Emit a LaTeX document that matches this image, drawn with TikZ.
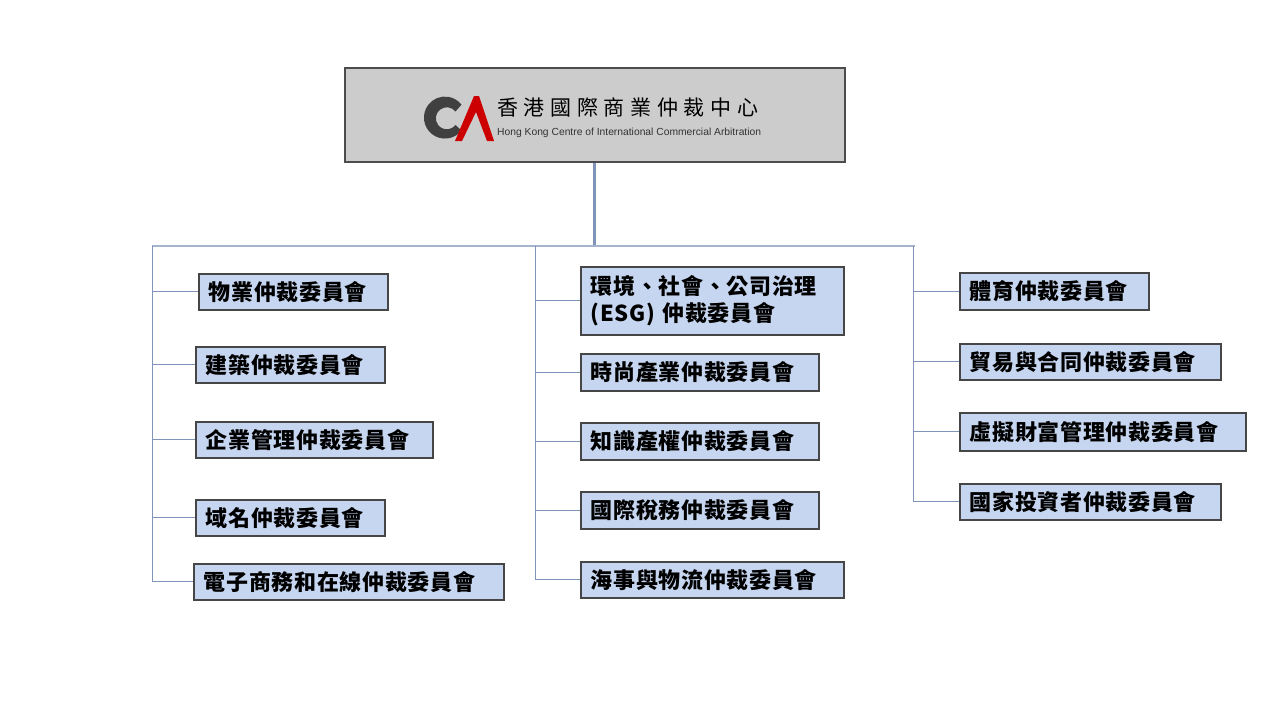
\documentclass[tikz,border=0pt]{standalone}
\usepackage{fontspec}
\newfontfamily\cjk{Noto Sans CJK TC}
\setmainfont{Liberation Sans}
\begin{document}
\begin{tikzpicture}[x=1pt,y=-1pt,
  box/.style 2 args={draw=gray!55!black,line width=1.6pt,fill=boxc,inner xsep=10pt,inner ysep=0pt,anchor=north west,align=left,text width=#1pt-20pt,minimum height=#2pt,font=\cjk\bfseries\fontsize{22}{27}\selectfont\addfontfeature{LetterSpace=3}},
  ln/.style={draw=linec,line width=1pt},
]
\definecolor{boxc}{HTML}{C6D6F0}
\definecolor{linec}{HTML}{7F94B8}
\useasboundingbox (0,0) rectangle (1280,720);
\fill[white] (0,0) rectangle (1280,720);
% top box
\node[draw=gray!60!black,line width=2pt,fill=gray!40,minimum width=500pt,minimum height=94pt,anchor=north west,inner sep=0pt] (top) at (344,67) {};
\fill[black!75] (461.5,130.5) arc[start angle=38,end angle=322,radius=21] -- (455.5,111.5) arc[start angle=322,end angle=38,radius=11] -- cycle;
\fill[red!80!black] (455,141) -- (474,96) -- (479,96) -- (494,141) -- (487,141) -- (476,112) -- (462,141) -- cycle;
\node[anchor=west,inner sep=0pt,font=\cjk\fontsize{21}{22}\selectfont\addfontfeature{LetterSpace=27}] (t1) at (497,107) {香港國際商業仲裁中心};
\node[anchor=west,inner sep=0pt,font=\fontsize{10.3}{11}\selectfont,text=black!80] (t2) at (497,133) {Hong Kong Centre of International Commercial Arbitration};
% trunk
\coordinate (tb) at (594,245);
\draw[draw=linec,line width=3pt] (top.south -| tb) -- (tb);
\draw[draw=linec!70,line width=2.5pt] (152,246) coordinate (h1) -- (915,246) coordinate (h3);
\coordinate (h2) at (535,246);
% column 1
\node[box={189}{36}] (a1) at (198,273) {物業仲裁委員會};
\node[box={189}{36}] (a2) at (195,346) {建築仲裁委員會};
\node[box={237}{36}] (a3) at (195,421) {企業管理仲裁委員會};
\node[box={189}{36}] (a4) at (195,499) {域名仲裁委員會};
\node[box={310}{36}] (a5) at (193,563) {電子商務和在線仲裁委員會};
\draw[ln] (h1) -- (152,581);
\foreach \n in {a1,a2,a3,a4,a5} \draw[ln] (\n.west) -- (\n.west -| h1);
% column 2
\node[box={263}{68}] (b1) at (580,266) {環境、社會、公司治理\\(ESG) 仲裁委員會};
\node[box={238}{37}] (b2) at (580,353) {時尚產業仲裁委員會};
\node[box={238}{37}] (b3) at (580,422) {知識產權仲裁委員會};
\node[box={238}{37}] (b4) at (580,491) {國際稅務仲裁委員會};
\node[box={263}{36}] (b5) at (580,561) {海事與物流仲裁委員會};
\draw[ln] (h2) -- (535,580);
\foreach \n in {b1,b2,b3,b4,b5} \draw[ln] (\n.west) -- (\n.west -| h2);
% column 3
\coordinate (v3) at (913,246);
\node[box={189}{37}] (c1) at (959,272) {體育仲裁委員會};
\node[box={261}{36}] (c2) at (959,343) {貿易與合同仲裁委員會};
\node[box={286}{38}] (c3) at (959,412) {虛擬財富管理仲裁委員會};
\node[box={261}{36}] (c4) at (959,483) {國家投資者仲裁委員會};
\draw[ln] (v3) -- (913,502);
\foreach \n in {c1,c2,c3,c4} \draw[ln] (\n.west) -- (\n.west -| v3);
\end{tikzpicture}
\end{document}
